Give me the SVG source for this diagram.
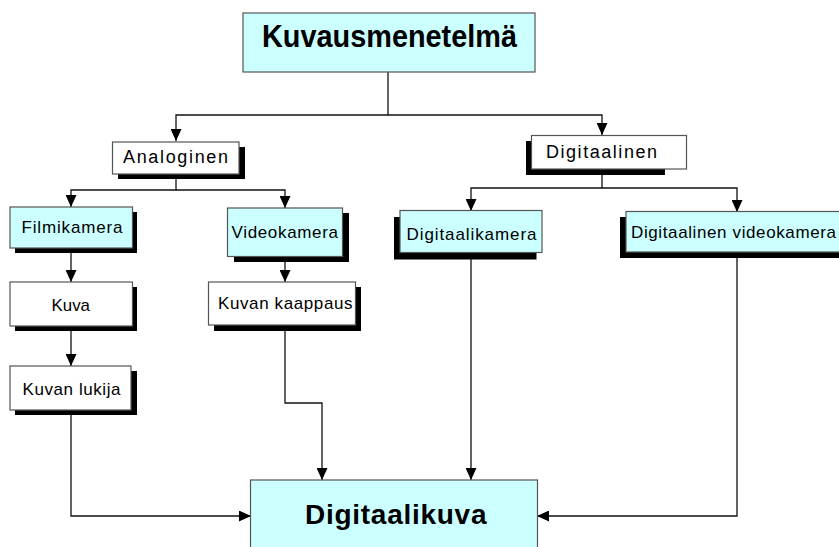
<svg xmlns="http://www.w3.org/2000/svg" width="839" height="547" viewBox="0 0 839 547">
<style>
.box{fill:#ccffff;stroke:#555;stroke-width:1.2}
.wbox{fill:#fff;stroke:#555;stroke-width:1.2}
.sh{fill:#000}
.lbl{font-family:"Liberation Sans",Arial,sans-serif;font-size:17px;fill:#000}
.big{font-family:"Liberation Sans",Arial,sans-serif;font-size:31px;font-weight:bold;fill:#000}
.con{fill:none;stroke:#111;stroke-width:1.3}
</style>
<defs>
<marker id="ah" markerUnits="userSpaceOnUse" markerWidth="12" markerHeight="11" refX="12" refY="5.5" orient="auto">
<path d="M0,0 L12,5.5 L0,11 z" fill="#000"/>
</marker>
</defs>
<rect width="839" height="547" fill="#fff"/>
<g id="connectors">
<path class="con" d="M388,72 V115 H176 V141" marker-end="url(#ah)"/>
<path class="con" d="M388,115 H602 V135" marker-end="url(#ah)"/>
<path class="con" d="M176,174 V190 H71 V207" marker-end="url(#ah)"/>
<path class="con" d="M176,190 H285 V208" marker-end="url(#ah)"/>
<path class="con" d="M602,169 V188 H471 V211" marker-end="url(#ah)"/>
<path class="con" d="M602,188 H737 V212" marker-end="url(#ah)"/>
<path class="con" d="M71,253 V282" marker-end="url(#ah)"/>
<path class="con" d="M71,331 V366" marker-end="url(#ah)"/>
<path class="con" d="M285,261 V282" marker-end="url(#ah)"/>
<path class="con" d="M71,415 V516 H251" marker-end="url(#ah)"/>
<path class="con" d="M285,331 V403 H322 V480" marker-end="url(#ah)"/>
<path class="con" d="M471,259 V480" marker-end="url(#ah)"/>
<path class="con" d="M737,258 V516 H537" marker-end="url(#ah)"/>
</g>
<g id="kuvausmenetelma">
<rect class="box" x="243" y="13" width="292" height="59"/>
<text class="big" x="262" y="47" textLength="255" lengthAdjust="spacingAndGlyphs">Kuvausmenetelmä</text>
</g>
<g id="analoginen">
<rect class="sh" x="118" y="147" width="127" height="32"/>
<rect class="wbox" x="112.5" y="142" width="126.5" height="32"/>
<text class="lbl" x="123" y="163" textLength="105" lengthAdjust="spacing" style="font-size:18px">Analoginen</text>
</g>
<g id="digitaalinen">
<rect class="sh" x="526" y="141" width="139" height="34"/>
<rect class="wbox" x="531.5" y="135.5" width="155" height="33.5"/>
<text class="lbl" x="546" y="158" textLength="111" lengthAdjust="spacing" style="font-size:18px">Digitaalinen</text>
</g>
<g id="filmikamera">
<rect class="sh" x="15" y="212" width="122" height="41"/>
<rect class="box" x="10" y="207" width="122.5" height="41"/>
<text class="lbl" x="21.5" y="233" textLength="101" lengthAdjust="spacing">Filmikamera</text>
</g>
<g id="videokamera">
<rect class="sh" x="234" y="213" width="115" height="49"/>
<rect class="box" x="227.5" y="208" width="115" height="48.5"/>
<text class="lbl" x="231.5" y="238" textLength="106.5" lengthAdjust="spacing">Videokamera</text>
</g>
<g id="digitaalikamera">
<rect class="sh" x="394" y="217" width="142.5" height="42.5"/>
<rect class="box" x="400" y="210.5" width="142" height="42"/>
<text class="lbl" x="406.5" y="240" textLength="130" lengthAdjust="spacing">Digitaalikamera</text>
</g>
<g id="digitaalinen-videokamera">
<rect class="sh" x="620" y="217" width="230" height="41"/>
<rect class="box" x="626" y="211.5" width="230" height="40.5"/>
<text class="lbl" x="631" y="238" textLength="205" lengthAdjust="spacing">Digitaalinen videokamera</text>
</g>
<g id="kuva">
<rect class="sh" x="15" y="287" width="122" height="44"/>
<rect class="wbox" x="10" y="282" width="122.5" height="44"/>
<text class="lbl" x="51.5" y="311" textLength="38.5" lengthAdjust="spacingAndGlyphs">Kuva</text>
</g>
<g id="kuvan-lukija">
<rect class="sh" x="15" y="371" width="122" height="44"/>
<rect class="wbox" x="10" y="366" width="121" height="44"/>
<text class="lbl" x="22.5" y="395" textLength="98" lengthAdjust="spacing">Kuvan lukija</text>
</g>
<g id="kuvan-kaappaus">
<rect class="sh" x="214" y="287" width="147" height="44"/>
<rect class="wbox" x="208.5" y="282" width="147" height="43"/>
<text class="lbl" x="218" y="308.5" textLength="134.5" lengthAdjust="spacing">Kuvan kaappaus</text>
</g>
<g id="digitaalikuva">
<rect class="box" x="250.5" y="480" width="287" height="80"/>
<text class="big" x="305" y="523.5" textLength="181.5" lengthAdjust="spacing" style="font-size:28px">Digitaalikuva</text>
</g>
</svg>
